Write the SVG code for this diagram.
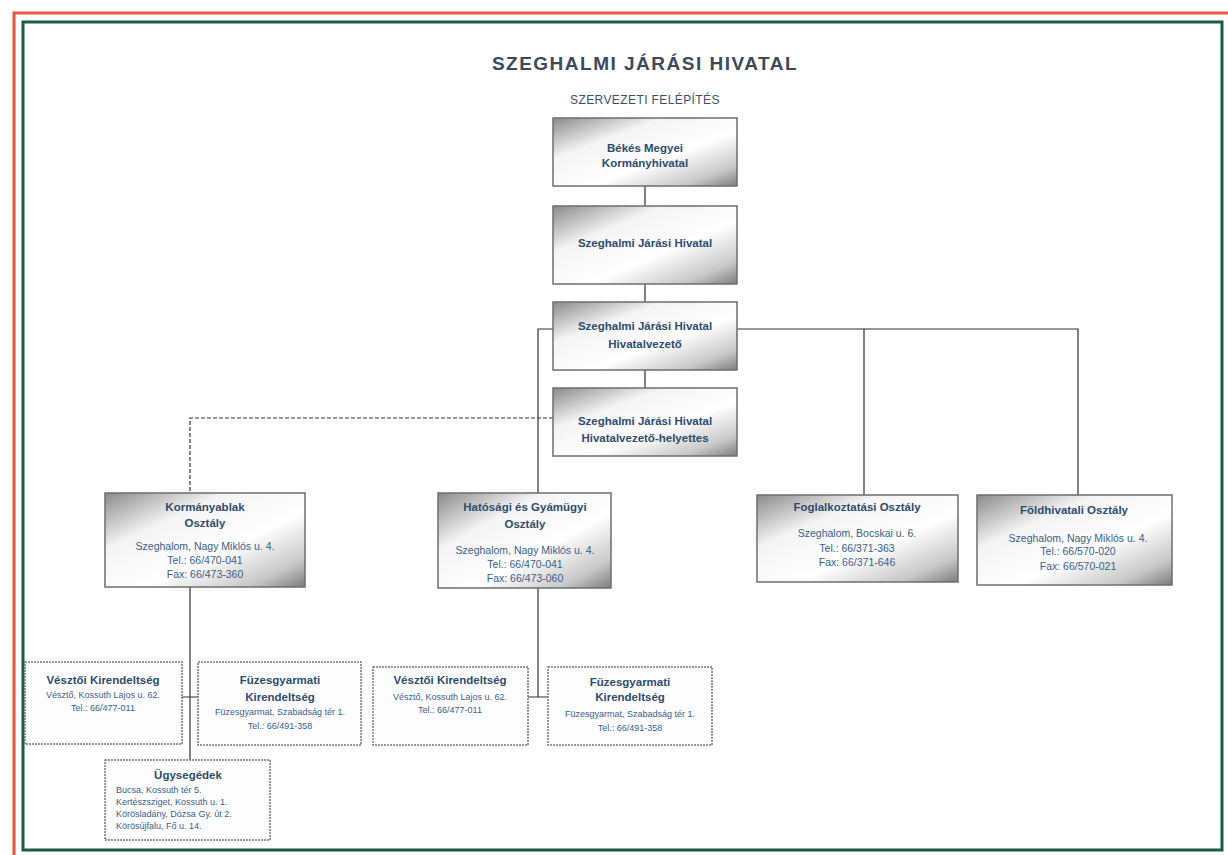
<svg xmlns="http://www.w3.org/2000/svg" width="1228" height="855" viewBox="0 0 1228 855">
<defs>
<linearGradient id="g" x1="0" y1="0" x2="1" y2="1">
<stop offset="0" stop-color="#8a8a8a"/>
<stop offset="0.3" stop-color="#f4f4f4"/>
<stop offset="0.6" stop-color="#ffffff"/>
<stop offset="0.85" stop-color="#c8c8c8"/>
<stop offset="1" stop-color="#7c7c7c"/>
</linearGradient>
<style>
.box{fill:url(#g);stroke:#6e6e6e;stroke-width:1.5}
.sbox{fill:#fdfdfd;stroke:#777;stroke-width:1.5;stroke-dasharray:2 1}
.h{font-family:"Liberation Sans",Arial,sans-serif;font-weight:bold;font-size:11.5px;fill:#2d4c6e;text-anchor:middle}
.a{font-family:"Liberation Sans",Arial,sans-serif;font-size:10.5px;fill:#3a5f8a;text-anchor:middle}
.sh{font-family:"Liberation Sans",Arial,sans-serif;font-weight:bold;font-size:11.5px;fill:#2d4c6e;text-anchor:middle}
.sa{font-family:"Liberation Sans",Arial,sans-serif;font-size:9px;fill:#3a5f8a;text-anchor:middle}
.sl{font-family:"Liberation Sans",Arial,sans-serif;font-size:9px;fill:#3a5f8a;text-anchor:start}
.ln{fill:none;stroke:#333;stroke-width:1.2}
.dl{fill:none;stroke:#333;stroke-width:1.2;stroke-dasharray:4 2}
</style>
</defs>
<rect width="1228" height="855" fill="#ffffff"/>
<g id="frame">
<path d="M14 855 V13 H1228" fill="none" stroke="#f0533f" stroke-width="3"/>
<path d="M23 850 V22 H1222 V850 Z" fill="none" stroke="#1a5c48" stroke-width="3"/>
</g>
<g id="title">
<text x="645" y="70" font-family="Liberation Sans,Arial,sans-serif" font-weight="bold" font-size="19px" letter-spacing="1.5" fill="#3b4a5c" text-anchor="middle">SZEGHALMI JÁRÁSI HIVATAL</text>
<text x="645" y="104" font-family="Liberation Sans,Arial,sans-serif" font-size="12px" letter-spacing="0.4" fill="#3a5070" text-anchor="middle">SZERVEZETI FELÉPÍTÉS</text>
</g>
<g id="connectors">
<path class="ln" d="M645 186 V206 M645 284 V302 M645 370 V388"/>
<path class="ln" d="M553 329 H538 V495"/>
<path class="ln" d="M737 329 H1078 V495 M864 329 V495"/>
<path class="dl" d="M553 418 H190 V493"/>
<path class="ln" d="M190 587 V760 M182 697 H198"/>
<path class="ln" d="M538 588 V697 M528 697 H548"/>
</g>
<g id="n1"><rect class="box" x="553" y="118" width="184" height="68"/>
<text class="h" x="645" y="152">Békés Megyei</text><text class="h" x="645" y="167">Kormányhivatal</text></g>
<g id="n2"><rect class="box" x="553" y="206" width="184" height="78"/>
<text class="h" x="645" y="247">Szeghalmi Járási Hivatal</text></g>
<g id="n3"><rect class="box" x="553" y="302" width="184" height="68"/>
<text class="h" x="645" y="330">Szeghalmi Járási Hivatal</text><text class="h" x="645" y="348">Hivatalvezető</text></g>
<g id="n4"><rect class="box" x="553" y="388" width="184" height="68"/>
<text class="h" x="645" y="425">Szeghalmi Járási Hivatal</text><text class="h" x="645" y="442">Hivatalvezető-helyettes</text></g>
<g id="n5"><rect class="box" x="105" y="493" width="200" height="94"/>
<text class="h" x="205" y="511">Kormányablak</text><text class="h" x="205" y="527">Osztály</text>
<text class="a" x="205" y="550">Szeghalom, Nagy Miklós u. 4.</text><text class="a" x="205" y="564">Tel.: 66/470-041</text><text class="a" x="205" y="578">Fax: 66/473-360</text></g>
<g id="n6"><rect class="box" x="438" y="493" width="173" height="95"/>
<text class="h" x="525" y="511">Hatósági és Gyámügyi</text><text class="h" x="525" y="528">Osztály</text>
<text class="a" x="525" y="554">Szeghalom, Nagy Miklós u. 4.</text><text class="a" x="525" y="568">Tel.: 66/470-041</text><text class="a" x="525" y="582">Fax: 66/473-060</text></g>
<g id="n7"><rect class="box" x="757" y="495" width="201" height="87"/>
<text class="h" x="857" y="511">Foglalkoztatási Osztály</text>
<text class="a" x="857" y="537">Szeghalom, Bocskai u. 6.</text><text class="a" x="857" y="552">Tel.: 66/371-363</text><text class="a" x="857" y="566">Fax: 66/371-646</text></g>
<g id="n8"><rect class="box" x="977" y="495" width="195" height="90"/>
<text class="h" x="1074" y="514">Földhivatali Osztály</text>
<text class="a" x="1078" y="542">Szeghalom, Nagy Miklós u. 4.</text><text class="a" x="1078" y="555">Tel.: 66/570-020</text><text class="a" x="1078" y="570">Fax: 66/570-021</text></g>
<g id="n9"><rect class="sbox" x="25" y="662" width="157" height="82"/>
<text class="sh" x="103" y="684">Vésztői Kirendeltség</text>
<text class="sa" x="103" y="698">Vésztő, Kossuth Lajos u. 62.</text><text class="sa" x="103" y="711">Tel.: 66/477-011</text></g>
<g id="n10"><rect class="sbox" x="198" y="662" width="163" height="83"/>
<text class="sh" x="280" y="684">Füzesgyarmati</text><text class="sh" x="280" y="701">Kirendeltség</text>
<text class="sa" x="280" y="715">Füzesgyarmat, Szabadság tér 1.</text><text class="sa" x="280" y="729">Tel.: 66/491-358</text></g>
<g id="n11"><rect class="sbox" x="373" y="667" width="155" height="78"/>
<text class="sh" x="450" y="684">Vésztői Kirendeltség</text>
<text class="sa" x="450" y="700">Vésztő, Kossuth Lajos u. 62.</text><text class="sa" x="450" y="713">Tel.: 66/477-011</text></g>
<g id="n12"><rect class="sbox" x="548" y="667" width="164" height="78"/>
<text class="sh" x="630" y="686">Füzesgyarmati</text><text class="sh" x="630" y="701">Kirendeltség</text>
<text class="sa" x="630" y="717">Füzesgyarmat, Szabadság tér 1.</text><text class="sa" x="630" y="731">Tel.: 66/491-358</text></g>
<g id="n13"><rect class="sbox" x="105" y="760" width="165" height="80"/>
<text class="sh" x="188" y="779">Ügysegédek</text>
<text class="sl" x="116" y="793">Bucsa, Kossuth tér 5.</text>
<text class="sl" x="116" y="805">Kertészsziget, Kossuth u. 1.</text>
<text class="sl" x="116" y="817">Körösladány, Dózsa Gy. út 2.</text>
<text class="sl" x="116" y="829">Körösújfalu, Fő u. 14.</text></g>
</svg>
